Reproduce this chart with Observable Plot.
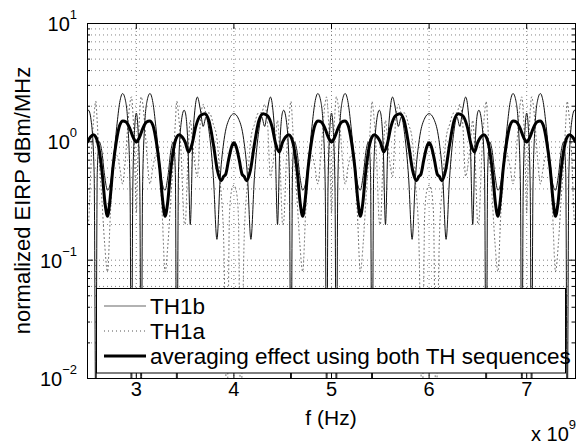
<!DOCTYPE html>
<html><head><meta charset="utf-8">
<script src="https://cdn.jsdelivr.net/npm/d3@7"></script>
<script src="https://cdn.jsdelivr.net/npm/@observablehq/plot@0.6"></script>
<style>html,body{margin:0;padding:0;background:#fff;} #chart{width:580px;height:445px;}</style>
</head><body><div id="chart"></div>
<script>
// ---- tick / label data ----
const xTicks = [3, 4, 5, 6, 7];
const xTickLabels = ["3", "4", "5", "6", "7"];
const yMajor = [0.01, 0.1, 1, 10];
const yExponents = ["\u22122", "\u22121", "0", "1"];
const yMinor = [0.02,0.03,0.04,0.05,0.06,0.07,0.08,0.09,0.2,0.3,0.4,0.5,0.6,0.7,0.8,0.9,2,3,4,5,6,7,8,9];
const seriesNames = ["TH1b", "TH1a", "averaging effect using both TH sequences"];
const xLabel = "f (Hz)";
const yLabel = "normalized EIRP dBm/MHz";
const xMultBase = "x 10", xMultExp = "9";

// ---- series: [frequency (GHz), normalized EIRP] ----
const th1b = [
[2.5,1.8],[2.51,1.85],[2.54,1.45],[2.568,.55],[2.585,.004],[2.6,.55],[2.62,1.0],[2.645,.85],[2.675,.52],[2.705,.39],[2.735,.45],[2.765,.7],[2.8,1.35],[2.83,2.15],[2.86,2.56],[2.888,2.25],[2.915,1.35],[2.936,.4],[2.95,.004],[2.964,.4],[2.982,1.25],[3.0,1.75],
[3.018,1.25],[3.036,.4],[3.05,.004],[3.064,.4],[3.085,1.35],[3.112,2.25],[3.14,2.56],[3.17,2.15],[3.2,1.35],[3.235,.7],[3.265,.45],[3.295,.39],[3.325,.52],[3.355,.85],[3.38,1.0],[3.4,.55],[3.415,.004],[3.432,.55],[3.46,1.45],[3.49,1.85],[3.5,1.8],[3.53,.9],[3.553,.2],[3.578,1.0],[3.6,1.85],[3.626,2.39],[3.655,1.9],[3.685,1.35],[3.715,1.62],[3.75,1.15],[3.79,.5],[3.826,.15],[3.86,.5],[3.9,1.05],[3.95,1.55],[4.0,1.73],
[4.05,1.55],[4.1,1.05],[4.14,.5],[4.174,.15],[4.21,.5],[4.25,1.15],[4.285,1.62],[4.315,1.35],[4.345,1.9],[4.374,2.39],[4.4,1.85],[4.422,1.0],[4.447,.2],[4.47,.9],[4.5,1.8],[4.51,1.85],[4.54,1.45],[4.568,.55],[4.585,.004],[4.6,.55],[4.62,1.0],[4.645,.85],[4.675,.52],[4.705,.39],[4.735,.45],[4.765,.7],[4.8,1.35],[4.83,2.15],[4.86,2.56],[4.888,2.25],[4.915,1.35],[4.936,.4],[4.95,.004],[4.964,.4],[4.982,1.25],[5.0,1.75],
[5.018,1.25],[5.036,.4],[5.05,.004],[5.064,.4],[5.085,1.35],[5.112,2.25],[5.14,2.56],[5.17,2.15],[5.2,1.35],[5.235,.7],[5.265,.45],[5.295,.39],[5.325,.52],[5.355,.85],[5.38,1.0],[5.4,.55],[5.415,.004],[5.432,.55],[5.46,1.45],[5.49,1.85],[5.5,1.8],[5.53,.9],[5.553,.2],[5.578,1.0],[5.6,1.85],[5.626,2.39],[5.655,1.9],[5.685,1.35],[5.715,1.62],[5.75,1.15],[5.79,.5],[5.826,.15],[5.86,.5],[5.9,1.05],[5.95,1.55],[6.0,1.73],
[6.05,1.55],[6.1,1.05],[6.14,.5],[6.174,.15],[6.21,.5],[6.25,1.15],[6.285,1.62],[6.315,1.35],[6.345,1.9],[6.374,2.39],[6.4,1.85],[6.422,1.0],[6.447,.2],[6.47,.9],[6.5,1.8],[6.51,1.85],[6.54,1.45],[6.568,.55],[6.585,.004],[6.6,.55],[6.62,1.0],[6.645,.85],[6.675,.52],[6.705,.39],[6.735,.45],[6.765,.7],[6.8,1.35],[6.83,2.15],[6.86,2.56],[6.888,2.25],[6.915,1.35],[6.936,.4],[6.95,.004],[6.964,.4],[6.982,1.25],[7.0,1.75],
[7.018,1.25],[7.036,.4],[7.05,.004],[7.064,.4],[7.085,1.35],[7.112,2.25],[7.14,2.56],[7.17,2.15],[7.2,1.35],[7.235,.7],[7.265,.45],[7.295,.39],[7.325,.52],[7.355,.85],[7.38,1.0],[7.4,.55],[7.415,.004],[7.432,.55],[7.46,1.45],[7.49,1.85],[7.5,1.8]
];
const th1a = [
[2.5,.2],[2.51,.21],[2.54,.79],[2.568,1.73],[2.585,2.2],[2.6,1.45],[2.62,.7],[2.645,.35],[2.675,.14],[2.705,.08],[2.735,.25],[2.765,.6],[2.8,.77],[2.83,.61],[2.86,.44],[2.888,.71],[2.915,1.45],[2.936,2.16],[2.95,2.4],[2.964,1.82],[2.982,.83],[3.0,.25],
[3.018,.83],[3.036,1.82],[3.05,2.4],[3.064,2.16],[3.085,1.45],[3.112,.71],[3.14,.44],[3.17,.61],[3.2,.77],[3.235,.6],[3.265,.25],[3.295,.08],[3.325,.14],[3.355,.35],[3.38,.7],[3.4,1.45],[3.415,2.2],[3.432,1.73],[3.46,.79],[3.49,.21],[3.5,.2],[3.53,.78],[3.553,1.52],[3.578,.96],[3.6,.65],[3.626,.51],[3.655,1.42],[3.685,2.07],[3.715,1.76],[3.75,1.75],[3.79,1.4],[3.826,1.07],[3.86,.46],[3.895,.15],[3.93,.005],[3.955,.25],[3.98,.4],[4.0,.43],
[4.02,.4],[4.045,.25],[4.07,.005],[4.105,.15],[4.14,.46],[4.174,1.07],[4.21,1.4],[4.25,1.75],[4.285,1.76],[4.315,2.07],[4.345,1.42],[4.374,.51],[4.4,.65],[4.422,.96],[4.447,1.52],[4.47,.78],[4.5,.2],[4.51,.21],[4.54,.79],[4.568,1.73],[4.585,2.2],[4.6,1.45],[4.62,.7],[4.645,.35],[4.675,.14],[4.705,.08],[4.735,.25],[4.765,.6],[4.8,.77],[4.83,.61],[4.86,.44],[4.888,.71],[4.915,1.45],[4.936,2.16],[4.95,2.4],[4.964,1.82],[4.982,.83],[5.0,.25],
[5.018,.83],[5.036,1.82],[5.05,2.4],[5.064,2.16],[5.085,1.45],[5.112,.71],[5.14,.44],[5.17,.61],[5.2,.77],[5.235,.6],[5.265,.25],[5.295,.08],[5.325,.14],[5.355,.35],[5.38,.7],[5.4,1.45],[5.415,2.2],[5.432,1.73],[5.46,.79],[5.49,.21],[5.5,.2],[5.53,.78],[5.553,1.52],[5.578,.96],[5.6,.65],[5.626,.51],[5.655,1.42],[5.685,2.07],[5.715,1.76],[5.75,1.75],[5.79,1.4],[5.826,1.07],[5.86,.46],[5.895,.15],[5.93,.005],[5.955,.25],[5.98,.4],[6.0,.43],
[6.02,.4],[6.045,.25],[6.07,.005],[6.105,.15],[6.14,.46],[6.174,1.07],[6.21,1.4],[6.25,1.75],[6.285,1.76],[6.315,2.07],[6.345,1.42],[6.374,.51],[6.4,.65],[6.422,.96],[6.447,1.52],[6.47,.78],[6.5,.2],[6.51,.21],[6.54,.79],[6.568,1.73],[6.585,2.2],[6.6,1.45],[6.62,.7],[6.645,.35],[6.675,.14],[6.705,.08],[6.735,.25],[6.765,.6],[6.8,.77],[6.83,.61],[6.86,.44],[6.888,.71],[6.915,1.45],[6.936,2.16],[6.95,2.4],[6.964,1.82],[6.982,.83],[7.0,.25],
[7.018,.83],[7.036,1.82],[7.05,2.4],[7.064,2.16],[7.085,1.45],[7.112,.71],[7.14,.44],[7.17,.61],[7.2,.77],[7.235,.6],[7.265,.25],[7.295,.08],[7.325,.14],[7.355,.35],[7.38,.7],[7.4,1.45],[7.415,2.2],[7.432,1.73],[7.46,.79],[7.49,.21],[7.5,.2]
];
const avgEIRP = [
[2.5,1.0],[2.53,1.1],[2.56,1.15],[2.585,1.1],[2.615,.9],[2.65,.55],[2.68,.3],[2.705,.235],[2.73,.32],[2.76,.6],[2.795,1.0],[2.83,1.38],[2.863,1.5],[2.895,1.47],[2.93,1.32],[2.97,1.08],[3.0,1.0],
[3.03,1.08],[3.07,1.32],[3.105,1.47],[3.137,1.5],[3.17,1.38],[3.205,1.0],[3.24,.6],[3.27,.32],[3.295,.235],[3.32,.3],[3.35,.55],[3.385,.9],[3.415,1.1],[3.44,1.15],[3.47,1.1],[3.5,1.0],[3.535,.82],[3.57,.95],[3.61,1.35],[3.655,1.66],[3.7,1.73],[3.745,1.5],[3.79,.95],[3.83,.58],[3.87,.47],[3.895,.51],[3.915,.53],[3.945,.7],[3.975,.9],[4.0,.98],
[4.025,.9],[4.055,.7],[4.085,.53],[4.105,.51],[4.13,.47],[4.17,.58],[4.21,.95],[4.255,1.5],[4.3,1.73],[4.345,1.66],[4.39,1.35],[4.43,.95],[4.465,.82],[4.5,1.0],[4.53,1.1],[4.56,1.15],[4.585,1.1],[4.615,.9],[4.65,.55],[4.68,.3],[4.705,.235],[4.73,.32],[4.76,.6],[4.795,1.0],[4.83,1.38],[4.863,1.5],[4.895,1.47],[4.93,1.32],[4.97,1.08],[5.0,1.0],
[5.03,1.08],[5.07,1.32],[5.105,1.47],[5.137,1.5],[5.17,1.38],[5.205,1.0],[5.24,.6],[5.27,.32],[5.295,.235],[5.32,.3],[5.35,.55],[5.385,.9],[5.415,1.1],[5.44,1.15],[5.47,1.1],[5.5,1.0],[5.535,.82],[5.57,.95],[5.61,1.35],[5.655,1.66],[5.7,1.73],[5.745,1.5],[5.79,.95],[5.83,.58],[5.87,.47],[5.895,.51],[5.915,.53],[5.945,.7],[5.975,.9],[6.0,.98],
[6.025,.9],[6.055,.7],[6.085,.53],[6.105,.51],[6.13,.47],[6.17,.58],[6.21,.95],[6.255,1.5],[6.3,1.73],[6.345,1.66],[6.39,1.35],[6.43,.95],[6.465,.82],[6.5,1.0],[6.53,1.1],[6.56,1.15],[6.585,1.1],[6.615,.9],[6.65,.55],[6.68,.3],[6.705,.235],[6.73,.32],[6.76,.6],[6.795,1.0],[6.83,1.38],[6.863,1.5],[6.895,1.47],[6.93,1.32],[6.97,1.08],[7.0,1.0],
[7.03,1.08],[7.07,1.32],[7.105,1.47],[7.137,1.5],[7.17,1.38],[7.205,1.0],[7.24,.6],[7.27,.32],[7.295,.235],[7.32,.3],[7.35,.55],[7.385,.9],[7.415,1.1],[7.44,1.15],[7.47,1.1],[7.5,1.0]
];

// ---- layout ----
const W = 580, H = 445, ML = 87, MR = 5, MT = 23, MB = 67;
const FW = W - ML - MR, FH = H - MT - MB;
const FONT = "'Liberation Sans', Arial, Helvetica, sans-serif";
const grid = {stroke: "#666", strokeWidth: 0.8, strokeDasharray: "1,3"};
const fx = d => d[0], fy = d => d[1];

const plot = Plot.plot({
  width: W, height: H,
  marginLeft: ML, marginRight: MR, marginTop: MT, marginBottom: MB,
  style: {fontFamily: FONT, background: "#fff", color: "#000", overflow: "visible"},
  x: {domain: [2.5, 7.5], axis: null},
  y: {type: "log", domain: [0.01, 10], axis: null},
  marks: [
    Plot.ruleY(yMinor.concat([0.1, 1]), grid),
    Plot.ruleX(xTicks, grid),
    Plot.line(th1a, {x: fx, y: fy, curve: "monotone-x", clip: true, stroke: "#555", strokeWidth: 0.9, strokeDasharray: "1,3"}),
    Plot.line(th1b, {x: fx, y: fy, curve: "monotone-x", clip: true, stroke: "#111", strokeWidth: 1}),
    Plot.line(avgEIRP, {x: fx, y: fy, curve: "monotone-x", clip: true, stroke: "#000", strokeWidth: 3, strokeLinejoin: "round"}),
    Plot.ruleY(yMajor, {stroke: "#000", insetRight: FW - 6}),
    Plot.ruleY(yMajor, {stroke: "#000", insetLeft: FW - 6}),
    Plot.ruleY(yMinor, {stroke: "#000", insetRight: FW - 3}),
    Plot.ruleY(yMinor, {stroke: "#000", insetLeft: FW - 3}),
    Plot.ruleX(xTicks, {stroke: "#000", insetTop: FH - 6}),
    Plot.ruleX(xTicks, {stroke: "#000", insetBottom: FH - 6}),
    Plot.frame({stroke: "#000", strokeWidth: 1}),
    Plot.text(xTicks, {x: d => d, text: (d, i) => xTickLabels[i], frameAnchor: "bottom", dy: 17, fontSize: 20, fill: "#000"})
  ]
});
document.getElementById("chart").appendChild(plot);

// ---- extra text and legend drawn into the SVG ----
const NS = "http://www.w3.org/2000/svg";
function el(name, attrs, parent) {
  const e = document.createElementNS(NS, name);
  for (const k in attrs) e.setAttribute(k, attrs[k]);
  (parent || plot).appendChild(e);
  return e;
}
const ys = plot.scale("y");
yMajor.forEach((v, i) => {
  const t = el("text", {x: 77, y: ys.apply(v) + 8, "text-anchor": "end", "font-size": 20, "font-family": FONT, fill: "#000"});
  t.appendChild(document.createTextNode("10"));
  const s = el("tspan", {dy: -12, "font-size": 13}, t);
  s.textContent = yExponents[i];
});
const xl = el("text", {x: ML + FW / 2, y: 425, "text-anchor": "middle", "font-size": 21, "font-family": FONT, fill: "#000"});
xl.textContent = xLabel;
const xm = el("text", {x: 576, y: 441, "text-anchor": "end", "font-size": 20, "font-family": FONT, fill: "#000"});
xm.appendChild(document.createTextNode(xMultBase));
const xme = el("tspan", {dy: -12, "font-size": 13}, xm);
xme.textContent = xMultExp;
const yl = el("text", {transform: `translate(30,${MT + FH / 2}) rotate(-90)`, "text-anchor": "middle", "font-size": 22, "font-family": FONT, fill: "#000"});
yl.textContent = yLabel;

// legend
const lg = el("g", {"text-anchor": "start"});
el("rect", {x: 96.5, y: 288.5, width: 469, height: 84.5, fill: "#fff", stroke: "#000", "stroke-width": 1}, lg);
const rows = [306, 331, 356];
const sampleStyles = [
  {stroke: "#666", "stroke-width": 1.2},
  {stroke: "#555", "stroke-width": 1, "stroke-dasharray": "1,3"},
  {stroke: "#000", "stroke-width": 3}
];
seriesNames.forEach((name, i) => {
  el("line", Object.assign({x1: 104, x2: 146, y1: rows[i], y2: rows[i]}, sampleStyles[i]), lg);
  const t = el("text", {x: 150, y: rows[i] + 8, "text-anchor": "start", "font-size": 22.5, "font-family": FONT, fill: "#000"}, lg);
  t.textContent = name;
});
</script>
</body></html>
